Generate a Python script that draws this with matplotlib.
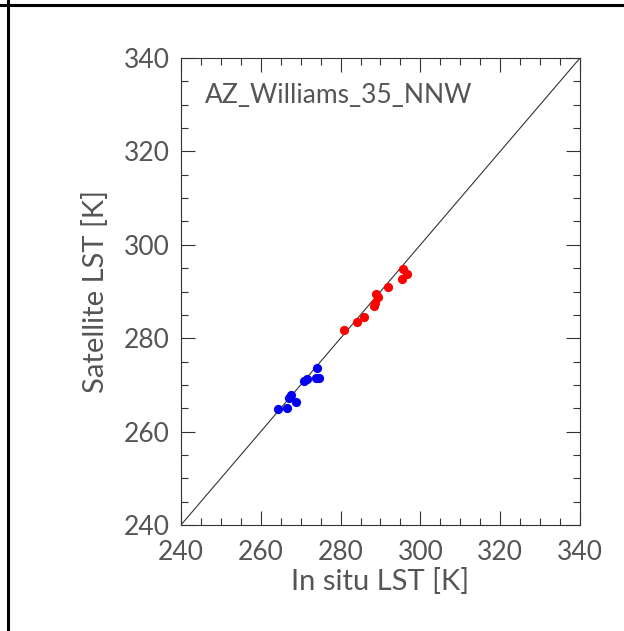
import matplotlib
matplotlib.use("Agg")
import matplotlib.pyplot as plt
from matplotlib.lines import Line2D
from matplotlib.ticker import MultipleLocator

site = "AZ_Williams_35_NNW"
blue_x = [264.4, 266.6, 267.1, 267.7, 268.8, 270.8, 271.5, 273.8, 274.5, 274.0]
blue_y = [264.8, 265.1, 267.1, 267.8, 266.3, 270.8, 271.3, 271.5, 271.5, 273.6]
red_x = [280.9, 284.0, 285.8, 288.4, 288.6, 288.8, 289.3, 292.0, 295.3, 295.6, 296.6]
red_y = [281.7, 283.4, 284.5, 287.0, 287.6, 289.5, 288.8, 290.9, 292.7, 294.9, 293.7]
lims = [240, 340]
ticks = [240, 260, 280, 300, 320, 340]

plt.rcParams['font.family'] = ['Lato', 'DejaVu Sans']

fig = plt.figure(figsize=(6.24, 6.31), dpi=100)
ax = fig.add_axes([0.290, 0.168, 0.6394, 0.740])
ax.plot(lims, lims, color='#333333', lw=0.8)
ax.scatter(blue_x, blue_y, s=44, color='#0000ee', zorder=3, linewidths=0)
ax.scatter(red_x, red_y, s=44, color='#ff0000', zorder=3, linewidths=0)
ax.set_xlim(lims)
ax.set_ylim(lims)
ax.set_xticks(ticks)
ax.set_yticks(ticks)
ax.xaxis.set_minor_locator(MultipleLocator(5))
ax.yaxis.set_minor_locator(MultipleLocator(5))
ax.tick_params(which='both', direction='in', top=True, right=True, color='#333333', width=0.8)
ax.tick_params(which='major', length=10, labelsize=19, labelcolor='#555555')
ax.tick_params(axis='x', which='major', pad=11)
ax.tick_params(axis='y', which='major', pad=8)
ax.tick_params(which='minor', length=5)
for sp in ax.spines.values():
    sp.set_linewidth(0.8)
    sp.set_color('#333333')
ax.set_xlabel("In situ LST [K]", fontsize=21, color='#555555', labelpad=2)
ax.set_ylabel("Satellite LST [K]", fontsize=21, color='#555555', labelpad=11)
ax.text(0.06, 0.92, site, transform=ax.transAxes, fontsize=19, color='#555555',
        ha='left', va='center')

fig.add_artist(Line2D([0, 1], [1 - 4.5/631, 1 - 4.5/631], transform=fig.transFigure, color='black', lw=2.2))
fig.add_artist(Line2D([7.5/624, 7.5/624], [0, 1], transform=fig.transFigure, color='black', lw=2.2))
fig.savefig("out.png", dpi=100)
